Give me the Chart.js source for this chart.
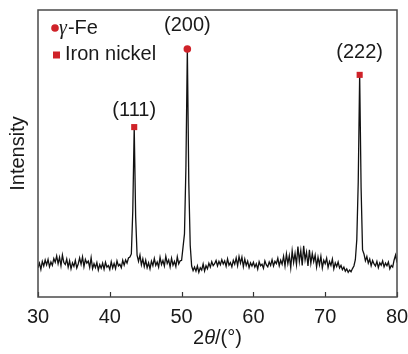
<!DOCTYPE html>
<html>
<head>
<meta charset="utf-8">
<script src="https://cdn.jsdelivr.net/npm/chart.js@4.4.1/dist/chart.umd.min.js"></script>
<style>
  html, body { margin: 0; padding: 0; background: #fff; }
  #wrap { width: 408px; height: 354px; }
</style>
</head>
<body>
<div id="wrap"><canvas id="xrd" width="408" height="354"></canvas></div>
<script>
// XRD pattern, 2theta from 30 to 80 sampled every 0.2 degree
const START_ANGLE = 30;
const ANGLE_STEP = 0.2;
const intensity = [
    10.2, 11.8, 9.6, 12.4, 10.8, 12.9, 11.2, 13.1, 10.5, 12.2,
    11.0, 13.4, 12.1, 14.3, 11.6, 13.8, 10.9, 14.6, 12.0, 11.3,
    13.2, 10.4, 12.6, 9.8, 11.9, 10.7, 12.8, 10.1, 11.5, 13.6,
    11.4, 14.0, 10.6, 13.1, 11.8, 12.5, 10.3, 13.7, 9.9, 11.6,
    10.2, 12.0, 9.4, 11.3, 10.0, 11.8, 9.7, 12.1, 10.4, 11.0,
    9.6, 12.3, 10.1, 11.7, 9.9, 12.6, 10.8, 11.4, 10.2, 12.8,
    11.1, 12.9, 11.8, 13.6, 13.9, 15.0, 30.0, 59.2, 28.0, 14.6,
    12.4, 14.6, 11.2, 13.3, 10.6, 12.8, 10.2, 11.9, 9.8, 12.5,
    10.9, 13.4, 11.0, 12.2, 10.4, 13.8, 11.3, 12.7, 10.8, 14.2,
    11.7, 12.9, 10.5, 13.5, 11.1, 12.4, 10.6, 14.0, 11.5, 12.6,
    12.8, 17.4, 22.0, 45.0, 86.4, 40.0, 18.0, 10.8, 9.2, 10.4,
    9.0, 10.8, 8.6, 10.2, 9.4, 11.5, 9.1, 10.9, 9.8, 11.8,
    10.4, 12.3, 10.9, 11.6, 12.7, 10.8, 12.4, 11.2, 13.0, 11.5,
    12.6, 10.7, 13.3, 11.1, 12.0, 10.5, 12.8, 11.4, 13.6, 10.9,
    14.1, 11.8, 13.9, 10.6, 13.2, 11.0, 12.5, 10.2, 11.9, 10.8,
    12.1, 10.4, 11.6, 9.7, 12.3, 10.9, 11.4, 10.0, 12.6, 11.2,
    10.5, 12.2, 11.0, 13.0, 10.8, 12.4, 11.6, 13.5, 10.9, 12.8,
    11.4, 14.2, 10.8, 15.0, 11.6, 14.4, 10.2, 16.1, 12.0, 15.2,
    11.3, 17.6, 12.4, 16.2, 11.0, 17.8, 12.9, 15.6, 10.8, 16.4,
    11.7, 15.1, 12.3, 14.6, 10.5, 13.9, 11.2, 14.2, 10.1, 12.8,
    11.6, 13.5, 10.3, 12.4, 11.0, 13.2, 9.8, 11.9, 10.6, 12.2,
    10.1, 11.0, 9.5, 10.4, 9.0, 9.8, 8.6, 9.4, 8.8, 9.9,
    10.8, 13.0, 20.0, 40.0, 77.4, 38.0, 16.4, 15.0, 12.6, 14.1,
    11.8, 13.2, 10.9, 12.7, 11.5, 10.8, 12.4, 10.2, 11.9, 11.1,
    12.6, 10.5, 11.8, 10.9, 12.2, 9.8, 11.0, 10.4, 12.9, 14.6,
    12.0
];

// indexed peaks
const peakAngles = [43.4, 50.8, 74.8];
const peakHeights = [59.2, 86.4, 77.4];
const peakLabels = ['(111)', '(200)', '(222)'];
const peakPhases = ['nickel', 'gamma', 'nickel'];

const xTicks = [30, 40, 50, 60, 70, 80];

const RED = '#cf2229';
const FONT = '"Liberation Sans", Arial, sans-serif';

const pattern = intensity.map((v, i) => ({ x: START_ANGLE + i * ANGLE_STEP, y: v }));

function peaksOf(phase) {
    const pts = [];
    peakAngles.forEach((a, i) => {
        if (peakPhases[i] === phase) pts.push({ x: a, y: peakHeights[i] });
    });
    return pts;
}

// frame, inward ticks, peak labels, legend, x title
const decorations = {
    id: 'decorations',
    afterDatasetsDraw(chart) {
        const { ctx, chartArea: a, scales: { x, y } } = chart;
        ctx.save();

        // inward tick marks
        ctx.strokeStyle = '#333';
        ctx.lineWidth = 1.2;
        xTicks.forEach((t) => {
            const px = Math.round(x.getPixelForValue(t)) + 0.5;
            ctx.beginPath();
            ctx.moveTo(px, a.bottom);
            ctx.lineTo(px, a.bottom - 5);
            ctx.stroke();
        });

        // box
        ctx.strokeStyle = '#4a4a4a';
        ctx.lineWidth = 1.5;
        ctx.strokeRect(a.left, a.top, a.right - a.left, a.bottom - a.top);

        // peak labels
        const lift = [17, 24, 22];
        ctx.fillStyle = '#1a1a1a';
        ctx.font = '20px ' + FONT;
        ctx.textAlign = 'center';
        ctx.textBaseline = 'middle';
        peakAngles.forEach((ang, i) => {
            const px = x.getPixelForValue(ang);
            const py = y.getPixelForValue(peakHeights[i]) - lift[i];
            ctx.fillText(peakLabels[i], px, py);
        });

        // legend
        ctx.textAlign = 'left';
        ctx.fillStyle = RED;
        ctx.beginPath();
        ctx.arc(a.left + 17, a.top + 18, 3.8, 0, Math.PI * 2);
        ctx.fill();
        ctx.fillRect(a.left + 15, a.top + 41.5, 7, 7);

        ctx.fillStyle = '#1a1a1a';
        let lx = a.left + 21;
        ctx.font = 'italic 20px "Liberation Serif", "DejaVu Serif", serif';
        ctx.fillText('γ', lx, a.top + 19);
        lx += ctx.measureText('γ').width + 1;
        ctx.font = '20px ' + FONT;
        ctx.fillText('-Fe', lx, a.top + 18);
        ctx.fillText('Iron nickel', a.left + 27, a.top + 44);

        // x axis title: 2θ/(°)
        const parts = [
            { t: '2', f: '20px ' + FONT },
            { t: 'θ', f: 'italic 20px ' + FONT },
            { t: '/(°)', f: '20px ' + FONT },
        ];
        let total = 0;
        parts.forEach((p) => { ctx.font = p.f; p.w = ctx.measureText(p.t).width; total += p.w; });
        let tx = (a.left + a.right) / 2 - total / 2;
        parts.forEach((p) => {
            ctx.font = p.f;
            ctx.fillText(p.t, tx, 338);
            tx += p.w;
        });

        ctx.restore();
    }
};

new Chart(document.getElementById('xrd'), {
    type: 'line',
    data: {
        datasets: [
            {
                type: 'scatter',
                data: peaksOf('gamma'),
                pointStyle: 'circle',
                pointRadius: 3.8,
                backgroundColor: RED,
                borderWidth: 0,
                order: 0,
            },
            {
                type: 'scatter',
                data: peaksOf('nickel'),
                pointStyle: 'rect',
                pointRadius: 4.3,
                backgroundColor: RED,
                borderWidth: 0,
                order: 0,
            },
            {
                data: pattern,
                borderColor: '#111',
                borderWidth: 1.3,
                pointRadius: 0,
                tension: 0,
                fill: false,
                order: 1,
            },
        ],
    },
    options: {
        responsive: false,
        animation: false,
        events: [],
        layout: { padding: { top: 10, right: 11, left: 0, bottom: 0 } },
        plugins: {
            legend: { display: false },
            tooltip: { enabled: false },
        },
        scales: {
            x: {
                type: 'linear',
                min: 30,
                max: 80,
                afterFit: (s) => { s.height = 57; s.paddingLeft = 0; s.paddingRight = 0; },
                afterBuildTicks: (s) => { s.ticks = xTicks.map((v) => ({ value: v })); },
                grid: { display: false, drawTicks: false },
                border: { display: false },
                ticks: {
                    color: '#1a1a1a',
                    padding: 8,
                    font: { family: FONT, size: 20 },
                },
            },
            y: {
                min: 0,
                max: 100,
                afterFit: (s) => { s.width = 38; s.paddingTop = 0; s.paddingBottom = 0; },
                grid: { display: false, drawTicks: false },
                border: { display: false },
                ticks: { display: false },
                title: {
                    display: true,
                    text: 'Intensity',
                    color: '#1a1a1a',
                    padding: { top: 6, bottom: 0 },
                    font: { family: FONT, size: 20 },
                },
            },
        },
    },
    plugins: [decorations],
});
</script>
</body>
</html>
